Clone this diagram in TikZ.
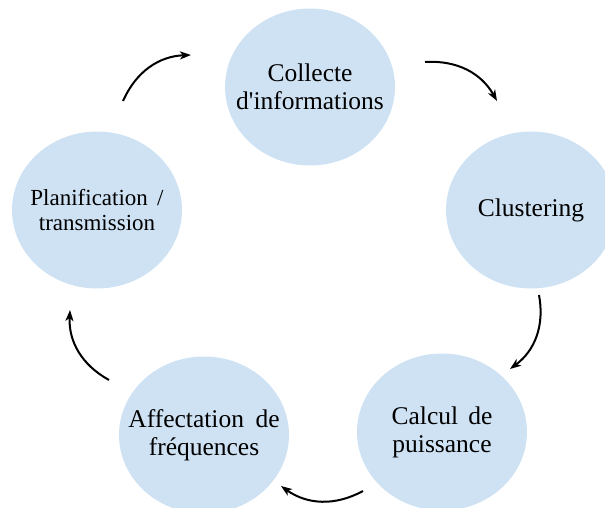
\documentclass[tikz,border=0pt]{standalone}
\usepackage{fontspec}
\setmainfont{Liberation Serif}
\usepackage{xcolor}
\usetikzlibrary{arrows.meta,positioning,shapes.geometric}

\definecolor{stepblue}{RGB}{207,226,243}

\begin{document}
\begin{tikzpicture}[
  x=1pt, y=1pt,
  stage/.style={ellipse, fill=stepblue, minimum width=170pt, minimum height=157pt,
    inner sep=0pt},
  lbl/.style={align=center, font=\fontsize{25.5}{28}\selectfont},
  flow/.style={-{Stealth[length=11pt, width=8pt, inset=3pt]}, line width=2pt, black},
  every node/.style={font=\small}
]
  \clip (0,0) rectangle (605,507);

  % Stages of the cycle
  \node[stage, label={[lbl]center:Collecte\\d\textquotesingle informations}] (collect) at (310,420) {};
  \node[stage, label={[lbl]center:Clustering}] (cluster) at (531,297) {};
  \node[stage, label={[lbl]center:Calcul\hspace{.4em}de\\puissance}] (power) at (442,75) {};
  \node[stage, label={[lbl]center:Affectation\hspace{.45em}de\\fréquences}] (freq) at (204,72) {};
  \node[stage, label={[lbl, font=\fontsize{23}{25}\selectfont]center:Planification\hspace{.4em}/\\transmission}]
    (plan) at (97,297) {};

  % Arrow end points between stages
  \coordinate (p1) at (123,406);  \coordinate (q1) at (191,452);
  \coordinate (p2) at (425,445);  \coordinate (q2) at (497,406);
  \coordinate (p3) at (539,212);  \coordinate (q3) at (510,138);
  \coordinate (p4) at (363,16);   \coordinate (q4) at (281,21);
  \coordinate (p5) at (109,127);  \coordinate (q5) at (70,197);

  % Cycle arrows
  \foreach \k in {1,...,5} {
    \draw[flow] (p\k) to[bend left=32] (q\k);
  }
\end{tikzpicture}
\end{document}
